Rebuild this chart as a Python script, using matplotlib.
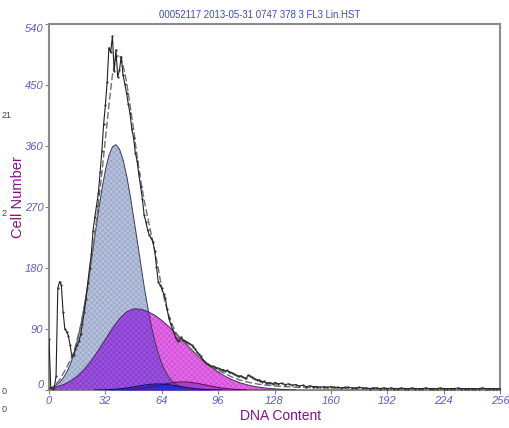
import numpy as np
import matplotlib
matplotlib.use("Agg")
import matplotlib.pyplot as plt

# ── data ─────────────────────────────────────────────────────────────────────

# measured histogram (channel, count)
hist_x = list(range(0, 131)) + list(range(132, 257, 2))
hist_y = [
    75, 3, 2, 4, 20, 150, 160, 155, 115, 90,
    86, 80, 66, 50, 52, 60, 66, 72, 82, 98,
    115, 135, 158, 180, 200, 235, 255, 272, 290, 322,
    352, 392, 420, 455, 505, 498, 522, 470, 502, 462,
    472, 492, 465, 452, 438, 422, 408, 385, 372, 350,
    338, 318, 300, 282, 258, 248, 236, 228, 224, 219,
    205, 182, 160, 155, 150, 142, 136, 120, 106, 98,
    90, 84, 76, 72, 74, 78, 74, 73, 71, 70,
    68, 66, 64, 60, 56, 53, 50, 46, 43, 40,
    38, 37, 35, 35, 34, 33, 32, 31, 30, 30,
    28, 29, 27, 26, 25, 24, 22, 21, 20, 21,
    19, 18, 17, 22, 21, 19, 18, 16, 15, 15,
    14, 12, 13, 11, 10, 11, 10, 9, 11, 10,
    9,
    10, 8, 9, 7, 8, 6, 7, 5, 6, 5,
    5, 4, 5, 4, 5, 4, 4, 3, 4, 4,
    3, 3, 4, 3, 3, 2, 3, 3, 2, 3,
    2, 3, 2, 2, 3, 2, 2, 3, 2, 2,
    2, 3, 2, 2, 2, 3, 2, 2, 2, 2,
    3, 2, 2, 2, 2, 2, 2, 3, 2, 2,
    2, 2, 2,
]

# overall model fit (dashed)
fit_x = [0, 2, 6, 10, 14, 18, 22, 26, 30, 32, 34, 36, 38, 40, 42, 44, 46, 48,
         50, 52, 54, 56, 58, 60, 62, 64, 66, 68, 70, 72, 74, 76, 78, 80, 84, 88,
         92, 96, 100, 104, 108, 112, 116, 120, 128, 140, 160, 200, 256]
fit_y = [0, 3, 15, 33, 55, 95, 150, 230, 320, 370, 420, 465, 490, 495, 480, 455,
         420, 385, 345, 310, 280, 255, 230, 205, 180, 150, 128, 110, 96, 85, 77,
         72, 67, 61, 51, 42, 35, 29, 24, 19, 15, 12, 10, 8, 6, 4, 3, 2, 2]

# G0/G1 component
g1_x = list(range(0, 84, 2))
g1_y = [2.7, 4.4, 7.2, 11.3, 17.3, 25.7, 37.2, 52.3, 71.6, 95.4,
        123.4, 155.5, 190.5, 226.9, 262.8, 296.2, 324.6, 346, 358.8, 362,
        355.4, 340.2, 317.5, 288.8, 256, 221.3, 186.4, 153, 122.5, 95.6,
        72.7, 53.9, 38.9, 27.4, 18.8, 12.6, 8.2, 5.2, 3.2, 2, 1, 0]

# S-phase component
s_x = list(range(0, 140, 4))
s_y = [2.4, 4.4, 7.7, 12.8, 20.3, 30.4, 43.2, 58.4, 74.9, 91,
       105.1, 115.2, 119.8, 119.3, 116, 110.4, 102.8, 93.7, 83.5, 72.8,
       62.1, 51.8, 42.3, 33.8, 26.4, 20.2, 15.1, 11, 7.9, 5.5,
       3.8, 2.5, 1.6, 1.0, 0.5]

# small blue component
b_x = list(range(26, 102, 4))
b_y = [0.1, 0.25, 0.6, 1.2, 2.2, 3.7, 5.5, 7.2, 8.5, 9,
       8.5, 7.2, 5.5, 3.7, 2.2, 1.2, 0.6, 0.25, 0.1]

# G2 component
g2_x = list(range(40, 116, 4))
g2_y = [0.26, 0.58, 1.2, 2.2, 3.7, 5.6, 7.8, 9.9, 11.4, 12,
        11.4, 9.9, 7.8, 5.6, 3.7, 2.2, 1.2, 0.58, 0.26]

title = "00052117 2013-05-31 0747 378 3 FL3 Lin.HST"
x_ticks = [0, 32, 64, 96, 128, 160, 192, 224, 256]
y_ticks = [0, 90, 180, 270, 360, 450, 540]

# ── figure ───────────────────────────────────────────────────────────────────

plt.rcParams["font.family"] = ["Liberation Sans", "DejaVu Sans"]
plt.rcParams["hatch.linewidth"] = 0.35

fig = plt.figure(figsize=(5.10, 4.28), dpi=100)
ax = fig.add_axes([49 / 510, 38 / 428, 451 / 510, 366 / 428])

xx = np.linspace(0, 140, 701)
g1 = np.interp(xx, g1_x, g1_y, left=0, right=0)
s = np.interp(xx, s_x, s_y, left=0, right=0)
overlap = np.minimum(g1, s)

ax.fill_between(xx, 0, g1, facecolor="#b5c0da", edgecolor="#8d9bc0",
                linewidth=0, hatch="xxxxxx", zorder=1)
ax.fill_between(xx, 0, s, facecolor="#e468e6", edgecolor="#c245cc",
                linewidth=0, hatch="xxxxxx", zorder=2)
ax.fill_between(xx, 0, overlap, facecolor="#9b50de", edgecolor="#7a35c2",
                linewidth=0, hatch="xxxxxx", zorder=3)
ax.fill_between(g2_x, 0, g2_y, facecolor="#b03cc8", edgecolor="#80209a",
                linewidth=0, zorder=4)
ax.fill_between(b_x, 0, b_y, facecolor="#2b2bd0", edgecolor="#1a1a9a",
                linewidth=0, zorder=5)

ax.plot(xx, g1, color="#3c3c5c", linewidth=0.7, zorder=6)
ax.plot(xx, s, color="#4a2a5a", linewidth=0.7, zorder=6)
ax.plot(g2_x, g2_y, color="#5a1060", linewidth=0.8, zorder=6)
ax.plot(b_x, b_y, color="#101070", linewidth=0.8, zorder=6)

ax.plot(fit_x, fit_y, color="#707070", linewidth=1.0, linestyle=(0, (5, 2)),
        zorder=7)
ax.plot(hist_x, hist_y, color="#222222", linewidth=0.8, marker="o",
        markersize=1.6, markerfacecolor="#333333", markeredgewidth=0, zorder=8)

ax.set_xlim(0, 256)
ax.set_ylim(0, 540)
ax.set_xticks(x_ticks)
ax.set_yticks(y_ticks)
tick_font = dict(fontsize=8, style="italic", color="#5c5cd0")
ax.set_xticklabels([str(v) for v in x_ticks], **tick_font)
ax.set_yticklabels([str(v) for v in y_ticks], **tick_font)
ax.tick_params(axis="both", direction="out", length=3, width=0.8,
               color="#808080", pad=1)
ylabels = ax.get_yticklabels()
ylabels[0].set_va("bottom")
ylabels[-1].set_va("top")

for sp in ax.spines.values():
    sp.set_color("#8a8a8a")
    sp.set_linewidth(1.5)

fig.text(260 / 510, 1 - 15 / 428, title, fontsize=6.9, color="#3c4cc0",
         ha="center", va="center")
fig.text(18 / 510, 1 - 197 / 428, "Cell Number", fontsize=10.5,
         color="#86108a", rotation=90, ha="center", va="center")
fig.text(281 / 510, 1 - 416 / 428, "DNA Content", fontsize=10,
         color="#86108a", ha="center", va="center")

# fragments at the left edge of the screenshot
for txt, ypx in [("21", 115), ("2", 213), ("0", 392), ("0", 410)]:
    fig.text(2 / 510, 1 - ypx / 428, txt, fontsize=6.5, color="#444444",
             ha="left", va="center")

fig.savefig("out.png", dpi=100)
